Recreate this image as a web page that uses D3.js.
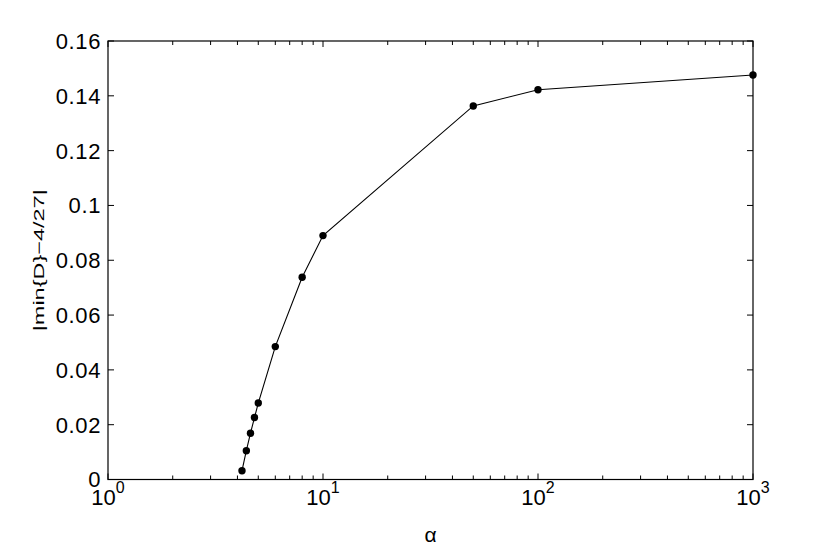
<!DOCTYPE html>
<html><head><meta charset="utf-8">
<script src="https://cdn.jsdelivr.net/npm/d3@7"></script>
<style>body{margin:0;background:#fff}svg{display:block}text{font-family:"Liberation Sans",Arial,sans-serif;fill:#000}</style>
</head><body><svg id="c" width="830" height="550"></svg>
<script>
const alphaValues = [4.2, 4.4, 4.6, 4.8, 5, 6, 8, 10, 50, 100, 1000];
const diffValues = [0.0032, 0.0105, 0.0169, 0.0226, 0.0279, 0.0485, 0.0738, 0.0890, 0.1363, 0.1422, 0.1476];
const yTicks = [0, 0.02, 0.04, 0.06, 0.08, 0.1, 0.12, 0.14, 0.16];
const xMajor = [1, 10, 100, 1000];
const xLabel = "\u03b1";
const yLabel = "|min{D}\u22124/27|";

const svg = d3.select("#c");
const L = 108, R = 753, T = 41, B = 479.5;
const x = d3.scaleLog().domain([1, 1000]).range([L, R]);
const y = d3.scaleLinear().domain([0, 0.16]).range([B, T]);

const xMinor = [];
for (let d = 1; d < 1000; d *= 10) for (let k = 2; k <= 9; k++) xMinor.push(d * k);

const g = svg.append("g");
const tk = g.append("g").attr("stroke", "#000").attr("stroke-width", 1);
xMajor.forEach(v => {
  tk.append("line").attr("x1", x(v)).attr("x2", x(v)).attr("y1", B).attr("y2", B - 6);
  tk.append("line").attr("x1", x(v)).attr("x2", x(v)).attr("y1", T).attr("y2", T + 6);
});
xMinor.forEach(v => {
  tk.append("line").attr("x1", x(v)).attr("x2", x(v)).attr("y1", B).attr("y2", B - 4);
  tk.append("line").attr("x1", x(v)).attr("x2", x(v)).attr("y1", T).attr("y2", T + 4);
});
yTicks.forEach(v => {
  tk.append("line").attr("x1", L).attr("x2", L + 6).attr("y1", y(v)).attr("y2", y(v));
  tk.append("line").attr("x1", R).attr("x2", R - 6).attr("y1", y(v)).attr("y2", y(v));
});
g.append("rect").attr("x", L).attr("y", T).attr("width", R - L).attr("height", B - T)
  .attr("fill", "none").attr("stroke", "#000").attr("stroke-width", 1.2);

yTicks.forEach(v => {
  g.append("text").attr("x", L - 7).attr("y", y(v)).attr("dy", "0.36em")
    .attr("text-anchor", "end").attr("font-size", 22).attr("letter-spacing", 0.6).text(String(+v.toFixed(2)));
});
xMajor.forEach(v => {
  const t = g.append("text").attr("x", x(v)).attr("y", 505).attr("text-anchor", "middle").attr("font-size", 22);
  t.append("tspan").text("10");
  t.append("tspan").attr("dy", -12).attr("font-size", 16).text(String(Math.round(Math.log10(v))));
});
g.append("text").attr("x", (L + R) / 2).attr("y", 542).attr("text-anchor", "middle").attr("font-size", 21).text(xLabel);
g.append("text").attr("transform", `translate(44,${(T + B) / 2}) rotate(-90)`).attr("text-anchor", "middle")
  .attr("font-size", 15).attr("textLength", 142).attr("lengthAdjust", "spacingAndGlyphs").text(yLabel);

const data = alphaValues.map((a, i) => [a, diffValues[i]]);
g.append("path").datum(data).attr("fill", "none").attr("stroke", "#000").attr("stroke-width", 1.1)
  .attr("d", d3.line().x(d => x(d[0])).y(d => y(d[1])));
g.selectAll("circle.p").data(data).enter().append("circle")
  .attr("cx", d => x(d[0])).attr("cy", d => y(d[1])).attr("r", 3.7).attr("fill", "#000");
</script></body></html>
